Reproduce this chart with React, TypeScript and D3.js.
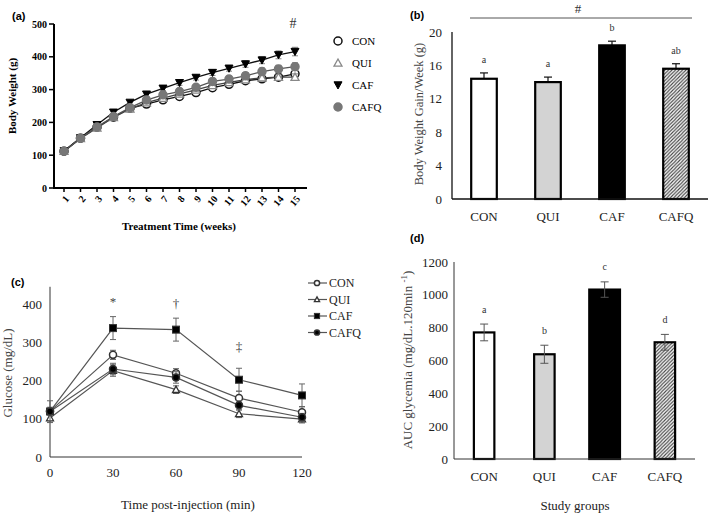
import React from "react";
import * as d3 from "d3";

// (a) body weight per week
const weeks = [1, 2, 3, 4, 5, 6, 7, 8, 9, 10, 11, 12, 13, 14, 15];
const bwCON = [112, 152, 185, 216, 243, 256, 269, 279, 291, 306, 316, 327, 333, 338, 348];
const bwQUI = [112, 151, 183, 215, 241, 260, 274, 287, 299, 313, 322, 330, 336, 338, 338];
const bwCAF = [113, 153, 193, 231, 261, 286, 304, 321, 337, 352, 365, 378, 390, 406, 416];
const bwCAFQ = [112, 152, 186, 218, 245, 268, 284, 294, 307, 325, 332, 342, 355, 363, 370];
const bwErrCON = [3, 3, 4, 4, 5, 5, 5, 6, 6, 6, 7, 7, 7, 8, 8];
const bwErrQUI = [3, 3, 4, 4, 5, 5, 6, 6, 7, 7, 8, 8, 9, 9, 10];
const bwErrCAF = [4, 4, 5, 6, 6, 7, 7, 8, 8, 9, 9, 10, 11, 12, 13];
const bwErrCAFQ = [3, 3, 4, 5, 5, 6, 6, 7, 8, 8, 9, 10, 11, 11, 12];
const weightTicks = [0, 100, 200, 300, 400, 500];

// (b) weekly gain
const groups = ["CON", "QUI", "CAF", "CAFQ"];
const gain = [14.4, 14.0, 18.4, 15.6];
const gainErr = [0.7, 0.6, 0.5, 0.6];
const gainLetters = ["a", "a", "b", "ab"];
const gainTicks = [0, 4, 8, 12, 16, 20];

// (c) glucose tolerance
const times = [0, 30, 60, 90, 120];
const gluCON = [120, 267, 219, 154, 117];
const gluQUI = [102, 226, 176, 113, 99];
const gluCAF = [119, 337, 333, 202, 161];
const gluCAFQ = [119, 230, 208, 135, 104];
const gluErrCON = [10, 12, 12, 18, 15];
const gluErrQUI = [12, 15, 10, 10, 10];
const gluErrCAF = [28, 30, 30, 30, 30];
const gluErrCAFQ = [10, 15, 15, 12, 10];
const gluSigTimes = [30, 60, 90];
const gluSigMarks = ["*", "†", "‡"];
const gluTicks = [0, 100, 200, 300, 400];

// (d) AUC
const auc = [771, 638, 1032, 711];
const aucErr = [51, 55, 47, 48];
const aucLetters = ["a", "b", "c", "d"];
const aucTicks = [0, 200, 400, 600, 800, 1000, 1200];

const SERIF = "'Liberation Serif', 'Times New Roman', serif";
const SANS = "'Liberation Sans', Arial, sans-serif";
const INK = "#222";

const Marker = ({ kind, x, y, fill, stroke, r = 4.5 }: any) => {
  if (kind === "circle")
    return <circle cx={x} cy={y} r={r} fill={fill} stroke={stroke} strokeWidth={1.5} />;
  if (kind === "tri") {
    const p = `M${x},${y - r} L${x + r},${y + r * 0.8} L${x - r},${y + r * 0.8} Z`;
    return <path d={p} fill={fill} stroke={stroke} strokeWidth={1.3} />;
  }
  if (kind === "dtri") {
    const p = `M${x},${y + r} L${x + r},${y - r * 0.8} L${x - r},${y - r * 0.8} Z`;
    return <path d={p} fill={fill} stroke={stroke} strokeWidth={1} />;
  }
  return <rect x={x - r} y={y - r} width={2 * r} height={2 * r} fill={fill} stroke={stroke} />;
};

const ErrBar = ({ x, y0, y1, cap = 3, color }: any) => (
  <g stroke={color} strokeWidth={1}>
    <line x1={x} x2={x} y1={y0} y2={y1} />
    <line x1={x - cap} x2={x + cap} y1={y1} y2={y1} />
    <line x1={x - cap} x2={x + cap} y1={y0} y2={y0} />
  </g>
);

function PanelA() {
  const x = d3.scaleLinear().domain([1, 15]).range([64, 295]);
  const y = d3.scaleLinear().domain([0, 500]).range([188, 24]);
  const series = [
    { name: "CON", v: bwCON, e: bwErrCON, kind: "circle", fill: "#fff", stroke: "#111", line: "#111" },
    { name: "QUI", v: bwQUI, e: bwErrQUI, kind: "tri", fill: "#fff", stroke: "#888", line: "#444" },
    { name: "CAF", v: bwCAF, e: bwErrCAF, kind: "dtri", fill: "#000", stroke: "#000", line: "#111" },
    { name: "CAFQ", v: bwCAFQ, e: bwErrCAFQ, kind: "circle", fill: "#777", stroke: "#777", line: "#555" },
  ];
  const line = d3.line<number>().x((_, i) => x(weeks[i])).y((d) => y(d));
  return (
    <g>
      <text x={12} y={20} fontFamily={SANS} fontWeight="bold" fontSize={11}>(a)</text>
      <line x1={54} x2={54} y1={y(500)} y2={y(0)} stroke="#000" strokeWidth={2} />
      <line x1={53} x2={307} y1={y(0)} y2={y(0)} stroke="#000" strokeWidth={2} />
      {weightTicks.map((t) => (
        <g key={t}>
          <line x1={49} x2={54} y1={y(t)} y2={y(t)} stroke="#000" strokeWidth={1.5} />
          <text x={47} y={y(t)} dy="0.35em" textAnchor="end" fontFamily={SERIF} fontWeight="bold" fontSize={10}>{t}</text>
        </g>
      ))}
      {weeks.map((w) => (
        <g key={w}>
          <line x1={x(w)} x2={x(w)} y1={y(0)} y2={y(0) + 4} stroke="#000" strokeWidth={1.5} />
          <text transform={`translate(${x(w) + 3},${y(0) + 9}) rotate(-50)`} textAnchor="end" dy="0.35em"
            fontFamily={SERIF} fontWeight="bold" fontSize={10}>{w}</text>
        </g>
      ))}
      <text x={179} y={230} textAnchor="middle" fontFamily={SERIF} fontWeight="bold" fontSize={11}>Treatment Time (weeks)</text>
      <text transform="translate(16,96) rotate(-90)" textAnchor="middle" fontFamily={SERIF} fontWeight="bold" fontSize={11}>Body Weight (g)</text>
      {series.map((s) => (
        <g key={s.name}>
          <path d={line(s.v) || ""} fill="none" stroke={s.line} strokeWidth={1.3} />
          {s.v.map((v, i) => (
            <ErrBar key={i} x={x(weeks[i])} y0={y(v - s.e[i])} y1={y(v + s.e[i])} cap={3} color="#888" />
          ))}
          {s.v.map((v, i) => (
            <Marker key={"m" + i} kind={s.kind} x={x(weeks[i])} y={y(v)} fill={s.fill} stroke={s.stroke} r={4} />
          ))}
        </g>
      ))}
      <text x={x(15) - 2} y={28} textAnchor="middle" fontFamily={SERIF} fontSize={14} fill="#333">#</text>
      {series.map((s, i) => (
        <g key={"l" + s.name}>
          <Marker kind={s.kind} x={338} y={41 + i * 22} fill={s.fill} stroke={s.stroke} r={4} />
          <text x={352} y={41 + i * 22} dy="0.35em" fontFamily={SERIF} fontSize={11}>{s.name}</text>
        </g>
      ))}
    </g>
  );
}

function PanelB() {
  const x = d3.scaleBand().domain(groups).range([452, 708]).paddingInner(0.6).paddingOuter(0.3);
  const y = d3.scaleLinear().domain([0, 20]).range([199, 32]);
  const fills = ["#fff", "#d3d3d3", "#000", "url(#hatch)"];
  return (
    <g>
      <text x={410} y={19} fontFamily={SANS} fontWeight="bold" fontSize={11}>(b)</text>
      <line x1={470} x2={692} y1={18} y2={18} stroke="#555" strokeWidth={1} />
      <text x={578} y={13} textAnchor="middle" fontFamily={SERIF} fontSize={13} fill="#333">#</text>
      {groups.map((g, i) => {
        const bx = x(g)!;
        const cx = bx + x.bandwidth() / 2;
        const top = y(gain[i] + gainErr[i]);
        return (
          <g key={g}>
            <line x1={cx} x2={cx} y1={y(gain[i])} y2={top} stroke="#111" strokeWidth={1.2} />
            <line x1={cx - 4} x2={cx + 4} y1={top} y2={top} stroke="#111" strokeWidth={1.2} />
            <rect x={bx} y={y(gain[i])} width={x.bandwidth()} height={y(0) - y(gain[i])} fill={fills[i]} stroke="#000" strokeWidth={2.2} />
            <text x={cx} y={top - 10} textAnchor="middle" fontFamily={SERIF} fontSize={10} fill="#333">{gainLetters[i]}</text>
            <text x={cx} y={216} dy="0.35em" textAnchor="middle" fontFamily={SERIF} fontSize={13} fill={INK}>{g}</text>
          </g>
        );
      })}
      <line x1={452} x2={452} y1={y(20)} y2={y(0)} stroke="#111" strokeWidth={1.3} />
      <line x1={452} x2={708} y1={y(0)} y2={y(0)} stroke="#111" strokeWidth={1.3} />
      {gainTicks.map((t) => (
        <text key={t} x={442} y={y(t)} dy="0.35em" textAnchor="end" fontFamily={SERIF} fontSize={13} fill={INK}>{t}</text>
      ))}
      <text transform="translate(423,114) rotate(-90)" textAnchor="middle" fontFamily={SERIF} fontSize={12.5} fill="#444">Body Weight  Gain/Week  (g)</text>
    </g>
  );
}

function PanelC() {
  const x = d3.scaleLinear().domain([0, 120]).range([50, 302]);
  const y = d3.scaleLinear().domain([0, 400]).range([457, 304]);
  const series = [
    { name: "CON", v: gluCON, e: gluErrCON, kind: "circle", fill: "#fff" },
    { name: "QUI", v: gluQUI, e: gluErrQUI, kind: "tri", fill: "#fff" },
    { name: "CAF", v: gluCAF, e: gluErrCAF, kind: "square", fill: "#000" },
    { name: "CAFQ", v: gluCAFQ, e: gluErrCAFQ, kind: "circle", fill: "#000" },
  ];
  const line = d3.line<number>().x((_, i) => x(times[i])).y((d) => y(d));
  return (
    <g>
      <text x={11} y={286} fontFamily={SANS} fontWeight="bold" fontSize={11}>(c)</text>
      <line x1={50} x2={50} y1={y(445)} y2={y(0)} stroke="#333" strokeWidth={1} />
      <line x1={50} x2={302} y1={y(0)} y2={y(0)} stroke="#333" strokeWidth={1} />
      {gluTicks.map((t) => (
        <text key={t} x={42} y={y(t)} dy="0.35em" textAnchor="end" fontFamily={SERIF} fontSize={13} fill={INK}>{t}</text>
      ))}
      {times.map((t) => (
        <text key={t} x={x(t)} y={472} dy="0.35em" textAnchor="middle" fontFamily={SERIF} fontSize={13} fill={INK}>{t}</text>
      ))}
      <text x={188} y={509} textAnchor="middle" fontFamily={SERIF} fontSize={13} fill={INK}>Time  post-injection  (min)</text>
      <text transform="translate(12,373) rotate(-90)" textAnchor="middle" fontFamily={SERIF} fontSize={13} fill="#444">Glucose  (mg/dL)</text>
      {series.map((s) => (
        <g key={s.name}>
          <path d={line(s.v) || ""} fill="none" stroke="#555" strokeWidth={1.2} />
          {s.v.map((v, i) => (
            <ErrBar key={i} x={x(times[i])} y0={y(v - s.e[i])} y1={y(v + s.e[i])} cap={3} color="#666" />
          ))}
          {s.v.map((v, i) => (
            <Marker key={"m" + i} kind={s.kind} x={x(times[i])} y={y(v)} fill={s.fill} stroke="#333" r={s.kind === "tri" ? 3.5 : 3.5} />
          ))}
        </g>
      ))}
      {gluSigTimes.map((t, i) => {
        const idx = times.indexOf(t);
        const top = y(gluCAF[idx] + gluErrCAF[idx]);
        return (
          <text key={t} x={x(t)} y={top - (i === 2 ? 22 : 15)} dy="0.35em" textAnchor="middle" fontFamily={SERIF} fontSize={13} fill="#444">{gluSigMarks[i]}</text>
        );
      })}
      {series.map((s, i) => (
        <g key={"l" + s.name}>
          <line x1={308} x2={327} y1={283 + i * 16.5} y2={283 + i * 16.5} stroke="#555" strokeWidth={1.2} />
          <Marker kind={s.kind} x={317} y={283 + i * 16.5} fill={s.fill} stroke="#333" r={2.6} />
          <text x={329} y={283 + i * 16.5} dy="0.35em" fontFamily={SERIF} fontSize={12} fill={INK}>{s.name}</text>
        </g>
      ))}
    </g>
  );
}

function PanelD() {
  const x = d3.scaleBand().domain(groups).range([454, 695]).paddingInner(0.66).paddingOuter(0.33);
  const y = d3.scaleLinear().domain([0, 1200]).range([459, 262]);
  const fills = ["#fff", "#d3d3d3", "#000", "url(#hatch)"];
  return (
    <g>
      <text x={410} y={242} fontFamily={SANS} fontWeight="bold" fontSize={11}>(d)</text>
      {groups.map((g, i) => {
        const cx = x(g)! + x.bandwidth() / 2;
        const w = g === "CAF" ? x.bandwidth() * 1.5 : x.bandwidth();
        const top = y(auc[i] + aucErr[i]);
        return (
          <g key={g}>
            <rect x={cx - w / 2} y={y(auc[i])} width={w} height={y(0) - y(auc[i])} fill={fills[i]} stroke="#000" strokeWidth={2.2} />
            <ErrBar x={cx} y0={y(auc[i] - aucErr[i])} y1={top} cap={4} color="#555" />
            <text x={cx} y={top - 15} dy="0.35em" textAnchor="middle" fontFamily={SERIF} fontSize={10} fill="#333">{aucLetters[i]}</text>
            <text x={cx} y={476} dy="0.35em" textAnchor="middle" fontFamily={SERIF} fontSize={13} fill={INK}>{g}</text>
          </g>
        );
      })}
      <line x1={454} x2={454} y1={y(1200)} y2={y(0)} stroke="#333" strokeWidth={1} />
      <line x1={454} x2={695} y1={y(0)} y2={y(0)} stroke="#333" strokeWidth={1} />
      {aucTicks.map((t) => (
        <text key={t} x={448} y={y(t)} dy="0.35em" textAnchor="end" fontFamily={SERIF} fontSize={13} fill={INK}>{t}</text>
      ))}
      <text x={575} y={510} textAnchor="middle" fontFamily={SERIF} fontSize={13} fill={INK}>Study  groups</text>
      <text transform="translate(412,360) rotate(-90)" textAnchor="middle" fontFamily={SERIF} fontSize={13} fill="#444">
        AUC glycemia  (mg/dL.120min <tspan dy={-5} fontSize={9}>-1</tspan><tspan dy={5}>)</tspan>
      </text>
    </g>
  );
}

export default function App() {
  return (
    <svg width={709} height={513} style={{ position: "absolute", left: 0, top: 0, background: "#fff" }}>
      <defs>
        <pattern id="hatch" patternUnits="userSpaceOnUse" width={3.5} height={3.5}>
          <rect width={3.5} height={3.5} fill="#fff" />
          <path d="M-1,1 l2,-2 M0,3.5 l3.5,-3.5 M2.5,4.5 l2,-2" stroke="#444" strokeWidth={1.1} />
        </pattern>
      </defs>
      <rect width={709} height={513} fill="#fff" />
      <PanelA />
      <PanelB />
      <PanelC />
      <PanelD />
    </svg>
  );
}
